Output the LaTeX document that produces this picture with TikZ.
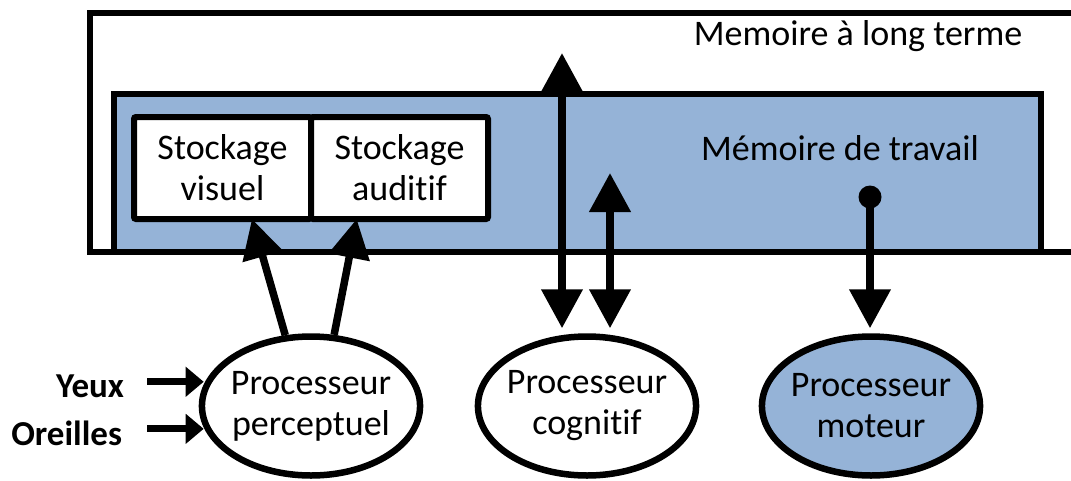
\documentclass[tikz,border=0pt]{standalone}
\usepackage{fontspec}
\setmainfont{Carlito}[Ligatures=CommonOff]
\usetikzlibrary{positioning,shapes.geometric,arrows.meta}
\definecolor{wmblue}{HTML}{95B3D7}
\begin{document}
\begin{tikzpicture}[x=1pt,y=-1pt,
line width=6pt,
txt/.style={font=\fontsize{36}{41}\selectfont, align=center, inner sep=0pt},
lbl/.style={font=\fontsize{35}{40}\selectfont\bfseries, inner sep=0pt},
store/.style={txt, draw, fill=white, rounded corners=2pt, minimum width=177pt, minimum height=102pt, outer sep=0pt},
proc/.style={txt, draw, ellipse, line width=6.5pt, inner xsep=-3pt, minimum height=139pt, minimum width=#1},
big/.style={line width=7.5pt, -{Triangle[length=39pt,width=40pt]}},
both/.style={line width=7.5pt, {Triangle[length=39pt,width=40pt]}-{Triangle[length=39pt,width=40pt]}},
small/.style={line width=7pt, -{Triangle[length=18pt,width=29pt]}},
dot/.style={circle, fill, inner sep=0pt, minimum size=23pt}
]
\useasboundingbox (0,0) rectangle (1071,480);

%%% long term memory
\draw (1071,13) -| (90,251.5) -- (1071,251.5);
\node[txt] (ltmtitle) at (858,36) {Memoire à long terme};

%%% working memory
\node[draw, fill=wmblue, inner sep=0pt, minimum width=927.5pt, minimum height=157.5pt] (wm) at (577.25,172.75) {};
\node[txt] (wmtitle) at (840,148) {Mémoire de travail};
\node[store] (visuel) at (222.5,168) {Stockage\\visuel};
\node[store, right=0pt of visuel] (auditif) {Stockage\\auditif};

%%% processors
\node[proc=216pt] (perc) at (311,406) {Processeur\\perceptuel};
\node[proc=214pt] (cog) at (587,406) {Processeur\\cognitif};
\node[proc=216pt, fill=wmblue] (mot) at (871,406) {Processeur\\moteur};

%%% senses
\node[lbl, anchor=base east] (yeux) at (127,397) {Yeux};
\node[lbl, anchor=base east] (oreilles) at (125,445) {Oreilles};
\foreach \s/\d in {yeux/20, oreilles/22}{
	\draw[small, shorten <=\d pt, shorten >=-5pt] ([yshift=4pt]\s.east) -- ([yshift=4pt]\s.east -| perc.west);
}

%%% arrows
\draw[big] (perc.110) -- (visuel.-60);
\draw[big] (perc.72) -- (auditif.-130);

\coordinate (ltmend) at (562,53);
\coordinate (wmend) at (610,173);
\foreach \c in {ltmend, wmend}{
	\draw[both, shorten >=5pt] (\c) -- (\c |- cog.north);
}

\node[dot] (dot) at (870,197) {};
\draw[big, shorten >=5pt] (dot.center) -- (dot |- mot.north);

\end{tikzpicture}
\end{document}
